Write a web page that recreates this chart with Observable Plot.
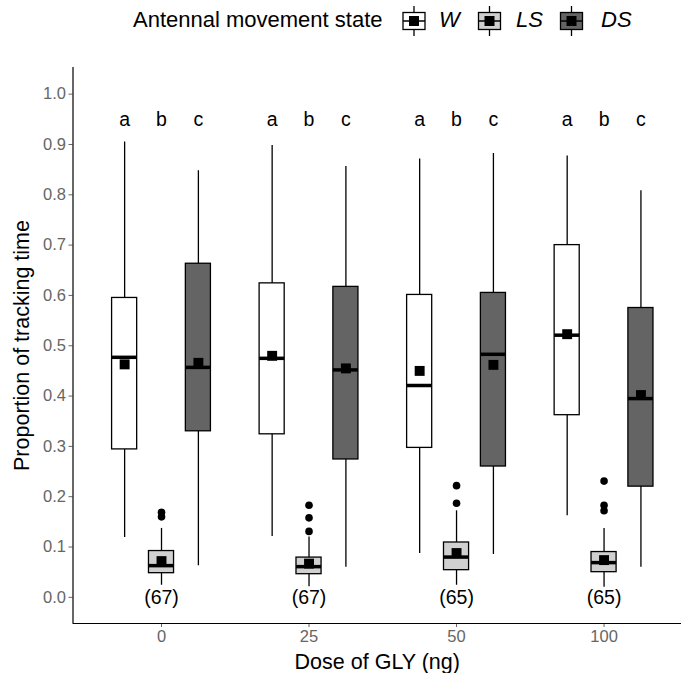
<!DOCTYPE html>
<html><head><meta charset="utf-8">
<script src="https://cdn.jsdelivr.net/npm/d3@7"></script>
<script src="https://cdn.jsdelivr.net/npm/@observablehq/plot@0.6"></script>
<style>
body{margin:0;background:#fff;font-family:"Liberation Sans",Arial,Helvetica,sans-serif;}
#legend{position:relative;height:50px;width:681px;}
#chart svg{display:block;}
</style></head><body>
<div id="legend"></div>
<div id="chart"></div>
<script>
// ---- data ----
const doses = ["0", "25", "50", "100"];
const states = ["W", "LS", "DS"];
const stateFills = ["#ffffff", "#d0d0d0", "#646464"];
const sampleSizes = ["(67)", "(67)", "(65)", "(65)"];
const letters = ["a", "b", "c"];
const yTicks = [0, 0.1, 0.2, 0.3, 0.4, 0.5, 0.6, 0.7, 0.8, 0.9, 1.0];

// W
const W_low    = [0.119, 0.121, 0.087, 0.162];
const W_q1     = [0.294, 0.324, 0.297, 0.362];
const W_median = [0.477, 0.475, 0.421, 0.521];
const W_q3     = [0.595, 0.624, 0.601, 0.700];
const W_high   = [0.905, 0.898, 0.871, 0.877];
const W_mean   = [0.463, 0.480, 0.450, 0.523];
// LS
const LS_low    = [0.024, 0.021, 0.024, 0.020];
const LS_q1     = [0.048, 0.046, 0.054, 0.050];
const LS_median = [0.063, 0.061, 0.080, 0.069];
const LS_q3     = [0.092, 0.079, 0.109, 0.090];
const LS_high   = [0.137, 0.120, 0.172, 0.137];
const LS_mean   = [0.072, 0.067, 0.088, 0.074];
const LS_outliers = [[0.169, 0.160], [0.183, 0.158, 0.131], [0.222, 0.187], [0.231, 0.183, 0.172]];
// DS
const DS_low    = [0.063, 0.060, 0.085, 0.060];
const DS_q1     = [0.330, 0.274, 0.260, 0.220];
const DS_median = [0.457, 0.452, 0.483, 0.395];
const DS_q3     = [0.663, 0.617, 0.605, 0.575];
const DS_high   = [0.848, 0.856, 0.882, 0.808];
const DS_mean   = [0.466, 0.455, 0.462, 0.402];

// ---- build tables ----
const stats = {
  W:  {low: W_low,  q1: W_q1,  median: W_median,  q3: W_q3,  high: W_high,  mean: W_mean},
  LS: {low: LS_low, q1: LS_q1, median: LS_median, q3: LS_q3, high: LS_high, mean: LS_mean},
  DS: {low: DS_low, q1: DS_q1, median: DS_median, q3: DS_q3, high: DS_high, mean: DS_mean}
};
const dodge = 0.25, halfWidth = 0.085;
const boxes = [];
states.forEach((s, si) => doses.forEach((d, di) => {
  const st = stats[s];
  boxes.push({dose: d, state: s, pos: di + (si - 1) * dodge,
    low: st.low[di], q1: st.q1[di], median: st.median[di], q3: st.q3[di], high: st.high[di], mean: st.mean[di]});
}));
const outliers = [];
doses.forEach((d, di) => LS_outliers[di].forEach(v => outliers.push({dose: d, pos: di, value: v})));
const letterRows = [];
doses.forEach((d, di) => states.forEach((s, si) => letterRows.push({pos: di + (si - 1) * dodge, label: letters[si]})));
const nRows = doses.map((d, di) => ({pos: di, label: sampleSizes[di]}));

const fillScale = {domain: states, range: stateFills};

const yDomain = [-0.052, 1.053];
const xDomain = [-0.6, 3.525];
const titleSize = 21.5;

const chart = Plot.plot({
  width: 681,
  height: 623,
  marginLeft: 72.5,
  marginRight: 0,
  marginTop: 17,
  marginBottom: 50,
  style: {fontFamily: '"Liberation Sans", Arial, sans-serif', background: "#fff"},
  x: {type: "linear", domain: xDomain},
  y: {domain: yDomain},
  color: fillScale,
  marks: [
    Plot.axisY({ticks: yTicks, tickFormat: d3.format(".1f"), tickSize: 4, tickPadding: 3, fontSize: 16.5, color: "#666666", label: null}),
    Plot.axisX({ticks: [0, 1, 2, 3], tickFormat: i => doses[i], tickSize: 4, tickPadding: 3, fontSize: 16.5, color: "#666666", label: null}),
    Plot.ruleX([xDomain[0]], {y1: yDomain[0], y2: yDomain[1], stroke: "#000", strokeWidth: 1.2}),
    Plot.ruleY([yDomain[0]], {x1: xDomain[0], x2: xDomain[1], stroke: "#000", strokeWidth: 1.2}),
    // whiskers
    Plot.ruleX(boxes, {x: "pos", y1: "low", y2: "high", stroke: "#000", strokeWidth: 1.3}),
    // boxes
    Plot.rectY(boxes, {x1: d => d.pos - halfWidth, x2: d => d.pos + halfWidth, y1: "q1", y2: "q3", fill: "state", stroke: "#000", strokeWidth: 1.3}),
    // medians
    Plot.ruleY(boxes, {y: "median", x1: d => d.pos - halfWidth, x2: d => d.pos + halfWidth, stroke: "#000", strokeWidth: 3.5}),
    // outliers
    Plot.dot(outliers, {x: "pos", y: "value", r: 3.8, fill: "#000", stroke: "none"}),
    // means
    Plot.dot(boxes, {x: "pos", y: "mean", symbol: "square", r: 5.6, fill: "#000", stroke: "none"}),
    // letters
    Plot.text(letterRows, {x: "pos", y: 0.95, text: "label", fontSize: 19.5, fill: "#000"}),
    // sample sizes
    Plot.text(nRows, {x: "pos", y: 0, text: "label", fontSize: 19.5, fill: "#000"}),
    // axis titles
    Plot.text(["Dose of GLY (ng)"], {frameAnchor: "bottom", lineAnchor: "middle", textAnchor: "middle", dy: 39, fontSize: titleSize, fill: "#000"}),
    Plot.text(["Proportion of tracking time"], {frameAnchor: "left", textAnchor: "middle", lineAnchor: "middle", rotate: -90, dx: -51, fontSize: titleSize, fill: "#000"})
  ]
});
document.getElementById("chart").appendChild(chart);

// ---- legend ----
const legend = d3.select("#legend");
const lg = legend.append("svg").attr("width", 681).attr("height", 50).style("display", "block");
lg.append("text").attr("x", 133).attr("y", 21).attr("dominant-baseline", "middle")
  .attr("font-size", 22).attr("fill", "#000").text("Antennal movement state");
const keyX = [402, 477.5, 559.5];
const labX = [439, 516, 601];
states.forEach((s, i) => {
  const g = lg.append("g").attr("transform", `translate(${keyX[i]},6)`);
  g.append("line").attr("x1", 12).attr("x2", 12).attr("y1", 0).attr("y2", 30).attr("stroke", "#000").attr("stroke-width", 1.3);
  g.append("rect").attr("x", 1).attr("y", 6.5).attr("width", 22).attr("height", 17)
    .attr("fill", stateFills[i]).attr("stroke", "#000").attr("stroke-width", 1.3);
  g.append("line").attr("x1", 1).attr("x2", 23).attr("y1", 15).attr("y2", 15).attr("stroke", "#000").attr("stroke-width", 1.5);
  g.append("rect").attr("x", 7).attr("y", 10).attr("width", 10).attr("height", 10).attr("fill", "#000");
  lg.append("text").attr("x", labX[i]).attr("y", 21).attr("dominant-baseline", "middle")
    .attr("font-size", 22).attr("font-style", "italic").attr("fill", "#000").text(s);
});
</script>
</body></html>
